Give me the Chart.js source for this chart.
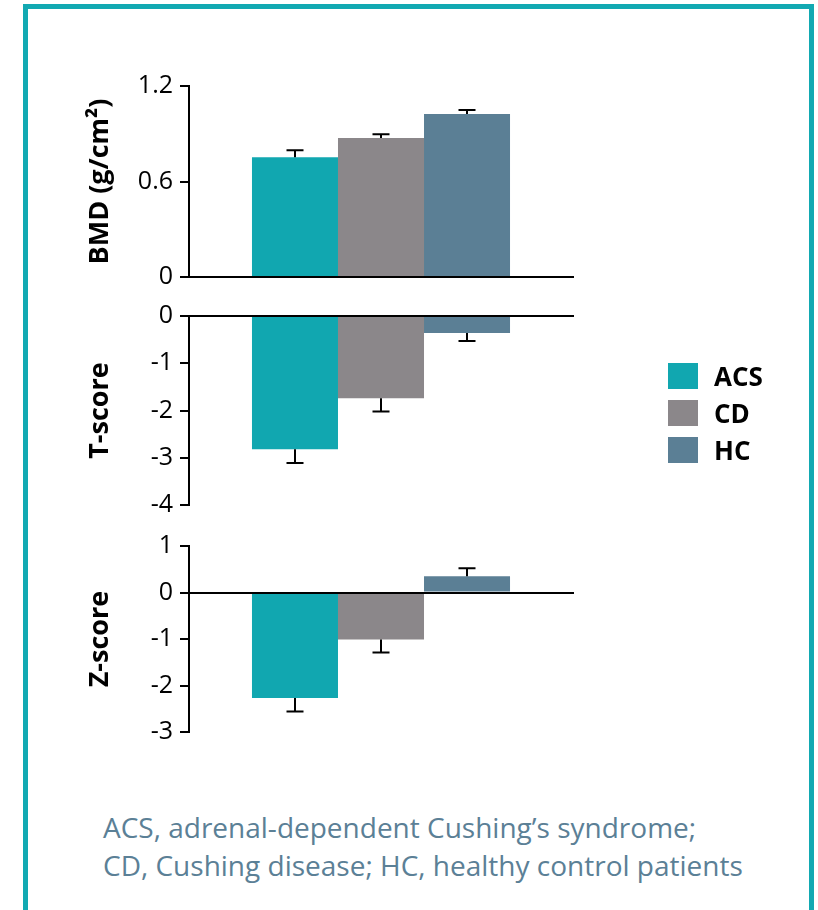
<!DOCTYPE html>
<html>
<head>
<meta charset="utf-8">
<script src="https://cdn.jsdelivr.net/npm/chart.js@4.4.0/dist/chart.umd.min.js"></script>
<style>
  html, body { margin: 0; padding: 0; background: #fff; width: 818px; height: 910px; overflow: hidden; position: relative; font-family: "Open Sans", sans-serif; }
  #frame { position: absolute; left: 23px; top: 4px; width: 781px; height: 960px; border: 5px solid #12a9b2; border-bottom: none; }
  canvas { position: absolute; left: 0; }
  #legend { position: absolute; left: 668px; top: 357px; }
  .item { display: flex; align-items: center; height: 37px; font-weight: 700; font-size: 26px; color: #000; }
  .sw { width: 30px; height: 26px; margin-right: 16px; }
  #note { position: absolute; left: 103px; top: 808px; color: #5b8096; font-size: 28px; line-height: 38px; white-space: nowrap; }
</style>
</head>
<body>
<div id="frame"></div>
<canvas id="bmd" width="818" height="260" style="top:50px"></canvas>
<canvas id="tscore" width="818" height="260" style="top:280px"></canvas>
<canvas id="zscore" width="818" height="260" style="top:510px"></canvas>
<div id="legend"></div>
<div id="note">ACS, adrenal-dependent Cushing’s syndrome;<br>CD, Cushing disease; HC, healthy control patients</div>
<script>
// Patient groups and their fill colours
const groups = ['ACS', 'CD', 'HC'];
const groupColors = ['#11a7b0', '#8b878a', '#5b7f95'];

// Bone mineral density, g/cm² (mean and error)
const bmdMean = [0.752, 0.873, 1.024];
const bmdErr  = [0.044, 0.024, 0.025];

// T-score (mean and error)
const tMean = [-2.82, -1.74, -0.36];
const tErr  = [0.29, 0.28, 0.17];

// Z-score (mean and error)
const zMean = [-2.27, -1.01, 0.35];
const zErr  = [0.29, 0.28, 0.17];

// Tick values for each panel
const bmdTicks = [0, 0.6, 1.2];
const tTicks = [0, -1, -2, -3, -4];
const zTicks = [1, 0, -1, -2, -3];

const AXIS_RIGHT = 573;   // right end of the zero line
const AXIS_LEFT = 189;    // x of the vertical axis

// Whisker drawn from the end of each bar, away from zero
const errorBars = {
  id: 'errorBars',
  afterDatasetsDraw(chart) {
    const { ctx } = chart;
    const y = chart.scales.y;
    ctx.save();
    ctx.strokeStyle = '#000';
    ctx.lineWidth = 2;
    chart.data.datasets.forEach((ds, i) => {
      const bar = chart.getDatasetMeta(i).data[0];
      const v = ds.data[0];
      const e = ds.errors[0];
      const end = v + (v >= 0 ? e : -e);
      const y0 = y.getPixelForValue(v);
      const y1 = y.getPixelForValue(end);
      const x = Math.round(bar.x);
      ctx.beginPath();
      ctx.moveTo(x, y0);
      ctx.lineTo(x, y1);
      ctx.moveTo(x - 8.5, y1);
      ctx.lineTo(x + 8.5, y1);
      ctx.stroke();
    });
    ctx.restore();
  }
};

function fmt(v) {
  if (v === 0) return '0';
  return String(Math.round(v * 10) / 10);
}

function makePanel(id, means, errs, ticks, title, pad) {
  const canvas = document.getElementById(id);
  return new Chart(canvas, {
    type: 'bar',
    data: {
      labels: [''],
      datasets: groups.map((g, i) => ({
        label: g,
        data: [means[i]],
        errors: [errs[i]],
        backgroundColor: groupColors[i],
        borderWidth: 0,
        categoryPercentage: 0.672,
        barPercentage: 1.0
      }))
    },
    options: {
      responsive: false,
      animation: false,
      devicePixelRatio: 1,
      layout: { padding: { left: 0, right: canvas.width - AXIS_RIGHT, top: pad.top, bottom: pad.bottom } },
      plugins: { legend: { display: false }, tooltip: { enabled: false } },
      scales: {
        x: {
          position: { y: 0 },
          grid: { display: false, drawTicks: false },
          ticks: { display: false },
          border: { display: true, color: '#000', width: 2, z: 1 }
        },
        y: {
          min: Math.min(...ticks),
          max: Math.max(...ticks),
          afterBuildTicks: s => { s.ticks = ticks.map(v => ({ value: v })); },
          afterFit: s => { s.width = AXIS_LEFT; },
          grid: { drawOnChartArea: false, drawTicks: true, tickLength: 9, lineWidth: 2, color: '#000', tickColor: '#000' },
          border: { display: true, color: '#000', width: 2 },
          ticks: {
            padding: 7,
            color: '#000',
            font: { family: '"Open Sans", sans-serif', size: 25 },
            callback: v => fmt(v)
          },
          title: {
            display: true,
            text: title,
            color: '#000',
            font: { family: '"Open Sans", sans-serif', size: 27, weight: 'bold', lineHeight: 1.2 },
            padding: { top: 84, bottom: 0 }
          }
        }
      }
    },
    plugins: [errorBars]
  });
}

makePanel('bmd', bmdMean, bmdErr, bmdTicks, 'BMD (g/cm²)', { top: 36, bottom: 33 });
makePanel('tscore', tMean, tErr, tTicks, 'T-score', { top: 36, bottom: 35 });
makePanel('zscore', zMean, zErr, zTicks, 'Z-score', { top: 36, bottom: 38 });

// Legend built from the same group names and colours
const legend = document.getElementById('legend');
groups.forEach((g, i) => {
  const row = document.createElement('div');
  row.className = 'item';
  const sw = document.createElement('div');
  sw.className = 'sw';
  sw.style.background = groupColors[i];
  const label = document.createElement('span');
  label.textContent = g;
  row.appendChild(sw);
  row.appendChild(label);
  legend.appendChild(row);
});
</script>
</body>
</html>
